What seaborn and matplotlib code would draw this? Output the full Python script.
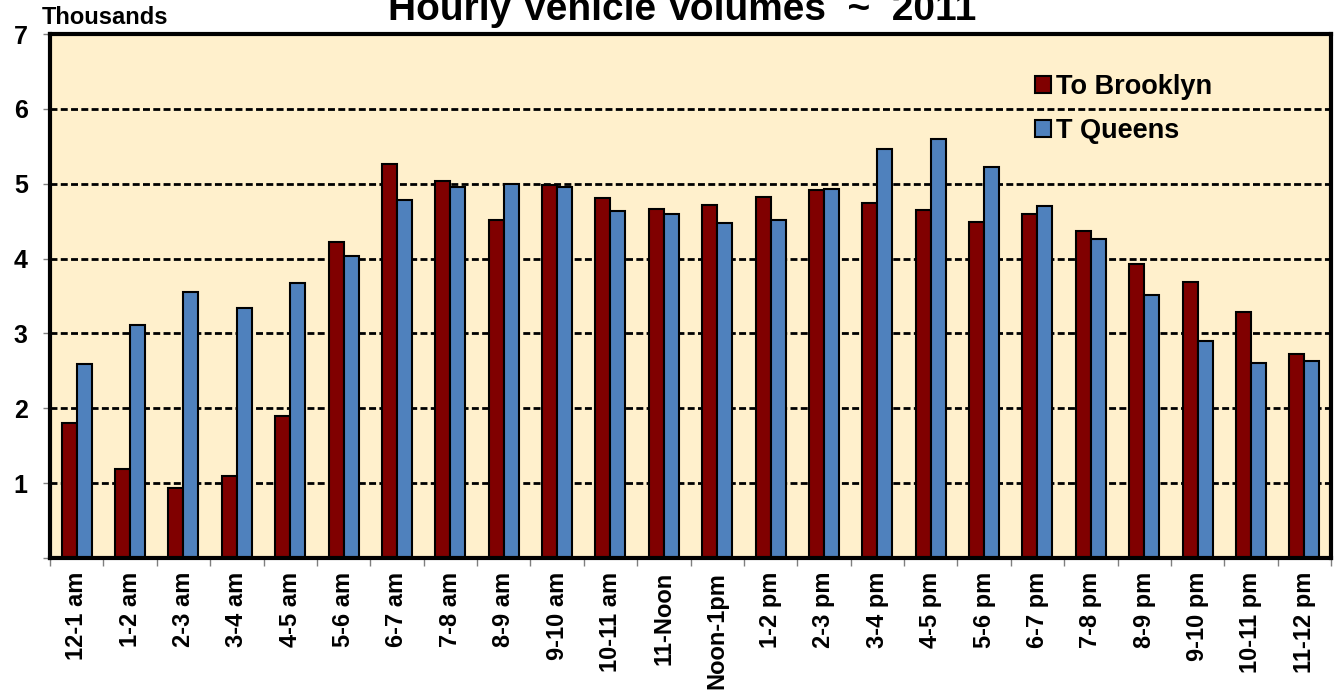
import matplotlib
matplotlib.use("Agg")
import matplotlib.pyplot as plt
from matplotlib.patches import Patch
from matplotlib.ticker import FixedLocator
import pandas as pd
import seaborn as sns

# Hourly volumes in thousands of vehicles
hours = ["12-1 am", "1-2 am", "2-3 am", "3-4 am", "4-5 am", "5-6 am",
         "6-7 am", "7-8 am", "8-9 am", "9-10 am", "10-11 am", "11-Noon",
         "Noon-1pm", "1-2 pm", "2-3 pm", "3-4 pm", "4-5 pm", "5-6 pm",
         "6-7 pm", "7-8 pm", "8-9 pm", "9-10 pm", "10-11 pm", "11-12 pm"]
to_brooklyn = [1.81, 1.19, 0.93, 1.09, 1.90, 4.22, 5.27, 5.03, 4.52, 4.98, 4.81, 4.66,
               4.72, 4.82, 4.92, 4.74, 4.65, 4.49, 4.59, 4.37, 3.93, 3.69, 3.29, 2.72]
to_queens = [2.59, 3.11, 3.56, 3.34, 3.68, 4.03, 4.78, 4.95, 5.00, 4.95, 4.63, 4.60,
             4.48, 4.51, 4.93, 5.46, 5.60, 5.22, 4.70, 4.26, 3.52, 2.90, 2.60, 2.63]
series = ["To Brooklyn", "T Queens"]
colors = ["#800000", "#4F81BD"]

df = pd.DataFrame({
    "hour": hours * 2,
    "volume": to_brooklyn + to_queens,
    "direction": [series[0]] * len(hours) + [series[1]] * len(hours),
})

plt.rcParams["font.family"] = ["Liberation Sans", "DejaVu Sans"]
plt.rcParams["font.weight"] = "bold"

W, H = 1338, 694
fig = plt.figure(figsize=(W / 100, H / 100), dpi=100)
left, right, top, bottom = 50, 1331, 34, 558
ax = fig.add_axes([left / W, 1 - bottom / H, (right - left) / W, (bottom - top) / H])
ax.set_facecolor("#FFF0CC")

sns.barplot(data=df, x="hour", y="volume", hue="direction", order=hours,
            hue_order=series, palette=colors, width=0.56, saturation=1,
            edgecolor="black", linewidth=1.5, legend=False, ax=ax)

ax.set_axisbelow(True)
ax.yaxis.grid(True, linestyle=(0, (2.5, 1.2)), color="black", linewidth=2.0)
ax.xaxis.grid(False)

ax.set_ylim(0, 7)
ax.set_xlim(-0.5, len(hours) - 0.5)
ax.set_yticks(range(0, 8))
ax.set_yticklabels([""] + [str(v) for v in range(1, 8)])
ax.set_xlabel("")
ax.set_ylabel("")

for s in ax.spines.values():
    s.set_linewidth(3)
    s.set_color("black")

ax.tick_params(axis="y", direction="out", length=5, width=1, color="#808080",
               labelsize=18, pad=11)
ax.tick_params(axis="x", which="major", length=0, labelsize=17, pad=10,
               labelrotation=90)
ax.xaxis.set_minor_locator(FixedLocator([i - 0.5 for i in range(len(hours) + 1)]))
ax.tick_params(axis="x", which="minor", direction="out", length=6, width=1,
               color="#808080")
for lbl in ax.get_xticklabels() + ax.get_yticklabels():
    lbl.set_fontweight("bold")

fig.text(42 / W, 1 - 24 / H, "Thousands", fontsize=17, fontweight="bold",
         ha="left", va="baseline")
fig.text(682 / W, 1 - 20 / H, "Hourly Vehicle Volumes  ~  2011", fontsize=28,
         fontweight="bold", ha="center", va="baseline")

handles = [Patch(facecolor=c, edgecolor="black", linewidth=1.5) for c in colors]
fig.legend(handles, series, loc="upper left", bbox_to_anchor=(1035 / W, 1 - 74 / H),
           frameon=False, prop={"weight": "bold", "size": 19.5},
           handlelength=0.58, handleheight=0.58, handletextpad=0.2,
           labelspacing=0.68, borderpad=0, borderaxespad=0)

fig.savefig("out.png", dpi=100)
